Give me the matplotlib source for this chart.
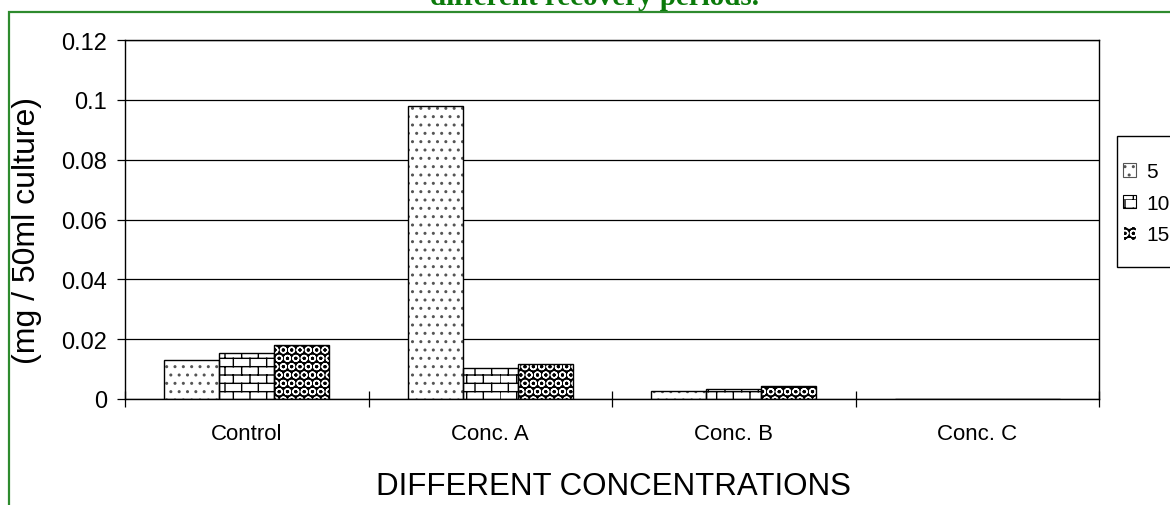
import warnings
import numpy as np
import matplotlib
matplotlib.use("Agg")
import matplotlib.pyplot as plt
import matplotlib.hatch as mhatch
from matplotlib.path import Path
from matplotlib.patches import Patch, Rectangle

warnings.filterwarnings("ignore", message=".*hatch must consist.*")

# ---- data ----
categories = ["Control", "Conc. A", "Conc. B", "Conc. C"]
periods = ["5", "10", "15"]
yield_5 = [0.013, 0.098, 0.0027, 0.0]
yield_10 = [0.0153, 0.0103, 0.0035, 0.0]
yield_15 = [0.018, 0.0116, 0.0043, 0.0]
y_ticks = [0, 0.02, 0.04, 0.06, 0.08, 0.1, 0.12]
y_tick_labels = ["0", "0.02", "0.04", "0.06", "0.08", "0.1", "0.12"]


# ---- brick hatch pattern ('b') ----
class BrickHatch(mhatch.HatchPatternBase):
    def __init__(self, hatch, density):
        self.num_rows = hatch.count("b") * density * 2
        self.num_cols = self.num_rows // 2
        self.num_vertices = self.num_rows * (1 + self.num_cols) * 2

    def set_vertices_and_codes(self, vertices, codes):
        n, m = self.num_rows, self.num_cols
        k = 0
        for i in range(n):
            y0, y1 = i / n, (i + 1) / n
            vertices[k] = (0.0, y0)
            vertices[k + 1] = (1.0, y0)
            codes[k], codes[k + 1] = Path.MOVETO, Path.LINETO
            k += 2
            shift = 0.5 if i % 2 else 0.0
            for j in range(m):
                xx = (j + shift) / m
                vertices[k] = (xx, y0)
                vertices[k + 1] = (xx, y1)
                codes[k], codes[k + 1] = Path.MOVETO, Path.LINETO
                k += 2


mhatch._hatch_types.append(BrickHatch)

plt.rcParams["font.family"] = ["Liberation Sans", "DejaVu Sans"]
plt.rcParams["hatch.linewidth"] = 1.0

W, H = 1170, 506
fig = plt.figure(figsize=(W / 100, H / 100), dpi=100)
ax = fig.add_axes([125 / W, 1 - 400 / H, (1099 - 125) / W, (400 - 41) / H])

x = np.arange(len(categories))
bw = 0.226
series = [yield_5, yield_10, yield_15]
# (face, hatch colour, hatch)
styles = [("white", "#555555", ".."),
          ("white", "black", "b"),
          ("black", "white", "OO")]

handles = []
for i, (vals, (fc, hc, hat)) in enumerate(zip(series, styles)):
    pos = x + (i - 1) * bw
    ax.bar(pos, vals, bw, color=fc, edgecolor=hc, hatch=hat, linewidth=0, zorder=2)
    ax.bar(pos, vals, bw, fill=False, edgecolor="black", linewidth=1.0, zorder=3)
    handles.append(Patch(facecolor=fc, edgecolor=hc, hatch=hat, linewidth=0.8))

ax.set_xlim(-0.5, len(categories) - 0.5)
ax.set_ylim(0, 0.12)
ax.set_yticks(y_ticks)
ax.set_yticklabels(y_tick_labels)
ax.yaxis.grid(True, color="black", linewidth=0.9, zorder=0)
ax.set_axisbelow(True)

ax.set_xticks(x)
ax.set_xticklabels(categories)
ax.set_xticks(np.arange(-0.5, len(categories), 1.0), minor=True)
ax.tick_params(axis="x", which="major", length=0, pad=17, labelsize=16)
ax.tick_params(axis="x", which="minor", direction="inout", length=12, width=0.9)
ax.tick_params(axis="y", direction="out", length=6, width=0.9, pad=7, labelsize=17)
for s in ax.spines.values():
    s.set_color("black")
    s.set_linewidth(1.0)

fig.text(27 / W, 1 - 230 / H, "(mg / 50ml culture)", rotation=90,
         ha="center", va="center", fontsize=23)
fig.text(613 / W, 1 - 487 / H, "DIFFERENT CONCENTRATIONS",
         ha="center", va="center", fontsize=22.5)

fig.text(594 / W, 1 - 5 / H, "different recovery periods.", ha="center",
         va="baseline", fontsize=21, fontweight="bold",
         family=["Liberation Serif", "DejaVu Serif"], color="#0b7a0b")

# outer green frame
fig.add_artist(Rectangle((9 / W, -0.2), 1.2, 1 - 13 / H + 0.2,
                         transform=fig.transFigure, fill=False,
                         edgecolor="#2e8b2e", linewidth=1.6, clip_on=False))

# legend box frame, drawn separately so the inner padding can differ per side
fig.add_artist(Rectangle((1117 / W, 1 - 268 / H), 0.2, (268 - 137) / H,
                         transform=fig.transFigure, facecolor="white",
                         edgecolor="black", linewidth=1.0, clip_on=False,
                         zorder=4))
leg = fig.legend(handles, periods, loc="upper left",
                 bbox_to_anchor=(1117 / W, 1 - 157 / H), borderaxespad=0,
                 fontsize=15, handlelength=0.6, handleheight=0.6,
                 handletextpad=0.5, labelspacing=0.6, borderpad=0.3,
                 frameon=False)
leg.set_zorder(5)

fig.savefig("out.png", dpi=100)
